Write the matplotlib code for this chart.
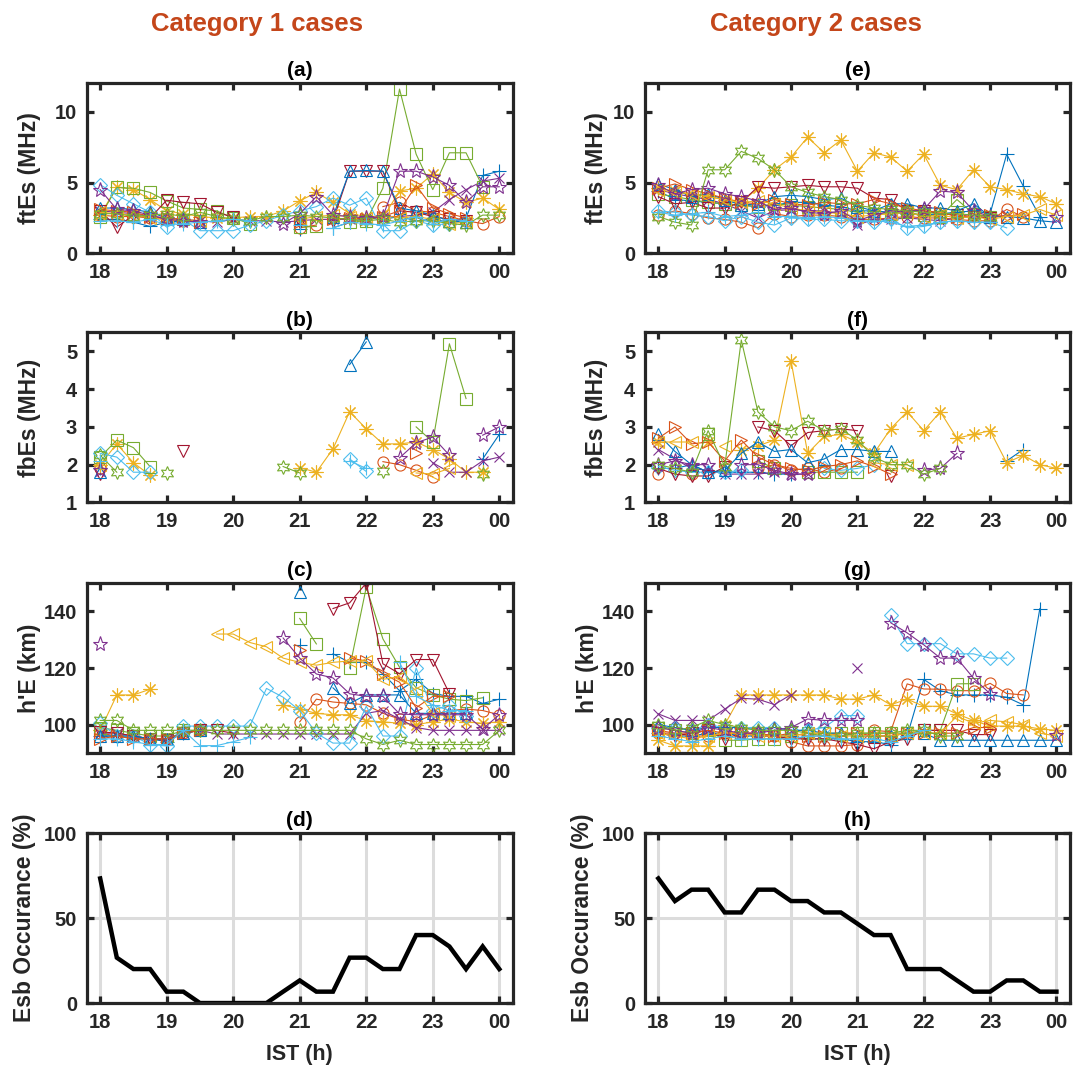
import numpy as np
import matplotlib
matplotlib.use("Agg")
import matplotlib.pyplot as plt

N = np.nan

# Observation times (IST, 15-minute sampling, 18:00 to 24:00)
ist_hours = [18.00, 18.25, 18.50, 18.75, 19.00, 19.25, 19.50, 19.75, 20.00,
             20.25, 20.50, 20.75, 21.00, 21.25, 21.50, 21.75, 22.00, 22.25,
             22.50, 22.75, 23.00, 23.25, 23.50, 23.75, 24.00]
hour_ticks = [18, 19, 20, 21, 22, 23, 24]
hour_labels = ["18", "19", "20", "21", "22", "23", "00"]

# ---------------- Category 1: ftEs (MHz), one row per case ----------------
ftes_cat1 = [
    [2.4, 2.4, 2.2, 1.9, 2.2, 2.3, 2.2, N, N, N, N, N, 1.7, N, 1.8, 2.2, 2.5, 2.4, 2.6, 2.3, 2.4, 2.2, 2.5, 5.5, 5.8],
    [2.7, 2.6, 2.6, 2.5, 2.4, 2.3, N, N, N, N, N, N, 1.8, 2.0, N, N, N, 3.3, 3.6, 3.0, 2.9, 2.6, 2.3, 2.1, 2.6],
    [2.7, 4.7, 4.5, 3.8, 3.0, 2.8, 2.6, 2.5, 2.5, 2.6, 2.6, 3.0, 3.7, 4.3, 3.6, 2.8, 2.6, 2.5, 4.4, 4.6, 5.6, 4.3, 3.6, 3.9, 3.1],
    [3.0, 2.9, 2.8, 2.6, 2.5, 2.4, 2.3, 2.2, 2.4, 2.3, 2.3, 2.2, 2.3, 2.4, 2.4, 2.4, 2.5, 2.6, 2.6, 2.7, 2.9, 3.8, 4.5, 5.1, 5.3],
    [2.6, 4.65, 4.6, 4.3, 3.7, 3.2, 3.1, 3.0, 2.5, 2.1, N, N, 1.85, 1.9, N, 2.2, 2.3, 4.6, 11.6, 7.0, 4.5, 7.1, 7.1, 4.7, N],
    [4.85, 4.1, 3.5, 2.9, 1.85, 2.4, 1.6, 1.6, 1.6, 2.0, 2.3, 2.7, 3.0, 3.3, 3.9, 3.4, 3.9, 1.6, 1.6, 2.3, 2.0, 2.1, 2.3, N, N],
    [3.0, 1.85, 2.7, 2.5, 3.75, 3.6, 3.5, 2.9, 2.55, N, N, N, 2.2, N, 2.3, 5.8, 5.8, 5.8, 3.0, 2.9, 2.6, 2.4, 2.3, N, N],
    [3.2, 3.2, 3.1, 2.9, 2.5, 2.4, 2.2, N, N, N, N, N, 2.5, N, 2.6, 5.8, 5.85, 5.8, 3.2, 3.0, 2.7, 2.3, 2.2, N, N],
    [3.1, 3.0, 2.9, 2.6, 2.5, 2.4, 2.2, N, N, N, N, N, 2.2, N, 2.4, 2.5, 2.4, 2.6, 3.0, 4.8, 3.2, 2.8, 2.5, N, N],
    [2.9, 2.8, 2.7, 2.5, 2.4, 2.4, 2.3, N, N, N, N, N, 2.4, 2.6, 2.7, 2.6, 2.5, 2.7, 2.5, 2.6, 2.4, 2.1, 2.2, N, N],
    [4.5, 3.1, 3.0, 2.7, 2.4, 2.3, 2.2, N, N, N, N, 2.1, 2.8, 4.0, 2.7, 2.6, 2.5, 2.6, 5.8, 5.8, 5.4, 4.8, 3.6, 4.7, 4.7],
    [2.8, 2.8, 2.6, 2.7, 2.8, 2.6, 2.9, 2.6, 2.4, 2.3, 2.6, 2.6, 2.7, 2.6, 2.5, 2.4, 2.3, 2.4, 2.2, 2.3, 2.3, 2.1, 2.0, 2.7, 2.7],
    [2.3, 2.3, 2.2, 2.4, 2.0, 2.1, 2.2, 2.3, 2.4, 2.3, N, N, 2.0, N, 1.8, 2.2, 2.1, 2.0, 2.3, 2.6, 2.1, 2.4, 2.3, N, N],
]

# ---------------- Category 1: fbEs (MHz) ----------------
fbes_cat1 = [
    [1.9, N, N, N, N, N, N, N, N, N, N, N, N, N, N, N, N, N, N, N, N, N, N, 2.15, 2.8],
    [1.9, N, N, N, N, N, N, N, N, N, N, N, N, N, N, N, N, 2.08, 2.0, 1.85, 1.68, N, N, N, N],
    [2.0, 2.55, 2.05, 1.72, N, N, N, N, N, N, N, N, 1.92, 1.8, 2.42, 3.4, 2.95, 2.55, 2.55, 2.6, 2.4, 2.15, 1.8, 1.8, N],
    [N, N, N, N, N, N, N, N, N, N, N, N, N, N, N, N, N, N, N, N, 2.05, 1.8, 1.8, 2.1, 2.2],
    [2.2, 2.65, 2.45, 1.95, N, N, N, N, N, N, N, N, N, N, N, N, N, N, N, 3.0, 2.6, 5.2, 3.75, N, N],
    [2.3, 2.2, 1.8, 1.8, N, N, N, N, N, N, N, N, N, N, N, 2.15, 1.82, N, N, N, N, N, N, N, N],
    [1.75, N, N, N, N, 2.35, N, N, N, N, N, N, N, N, N, N, N, N, N, N, N, N, N, N, N],
    [1.8, N, N, N, N, N, N, N, N, N, N, N, N, N, N, 4.65, 5.25, N, N, N, N, N, N, N, N],
    [N, N, N, N, N, N, N, N, N, N, N, N, N, N, N, N, N, N, N, 2.3, N, N, N, N, N],
    [2.0, N, N, N, N, N, N, N, N, N, N, N, N, N, N, N, N, N, N, 1.78, 1.75, 1.9, N, N, N],
    [1.85, N, N, N, N, N, N, N, N, N, N, N, N, N, N, N, N, N, 2.18, 2.58, 2.73, 2.25, N, 2.78, 3.0],
    [2.25, 1.8, N, N, 1.78, N, N, N, N, N, N, 1.95, 1.78, N, N, N, N, 1.82, N, N, N, N, N, 1.75, N],
    [2.1, N, N, N, N, N, N, N, N, N, N, N, N, N, N, 2.1, 1.9, N, N, N, N, N, N, N, N],
]

# ---------------- Category 1: h'E (km) ----------------
hpe_cat1 = [
    [96, 96, 95, 95, 94, 97, 98, N, N, N, N, N, 128, N, 125, 122, 122, 118, 112, 116, 111, 110, 110, 107.5, 109],
    [97, 96, 96, 95, 95, 97, 98, N, N, N, N, N, 101, 109, 108, 107.5, 107, 104, 102, 101, 103.5, 105, 105.5, 105, 103.5],
    [98, 110.5, 110.5, 112.5, N, N, N, N, N, N, N, 107, 105.5, 104, 103.5, 103.5, 101.4, 101, 100.5, 100, 101, 102, 101, 100.5, 101],
    [97, 97, 96, 95, 95, 97, 98, 96.7, 96.7, 96.7, 96.7, 96.7, 96.7, 96.7, 96.7, 96.7, 104, 105, 102, 99, 98, 98, 98, 98, 98],
    [99, 98, 97, 96, 96, 98, 98, N, N, N, N, N, 137.5, 128.5, N, 120, 148.5, 130.3, 120.3, 113, 110.5, 109, 108.5, 109.5, N],
    [100.5, 96, 96, 93, 92.5, 99.5, 99.5, 99.5, 99.5, 99.5, 112.8, 109.7, 105, 97, 93.5, 93.5, 106.5, 96, 96, 120, 105, 107, 103, N, N],
    [97.5, 97, 96, 95, 94.5, 97, 98, 98, 97, N, N, N, N, N, 141, 143, 150, 121.5, 118, 123, 123, 111, N, N, N],
    [96, 96, 96, 95, 95, 97, 98, N, N, N, N, N, 147, N, 113, 107.5, 110.5, 110.5, 110.5, 104, 104, 104, 104, N, N],
    [95, 96, 95, 95, 95, 97, 98, N, N, N, N, N, 126.5, N, N, 123.5, 122.5, 118, 115, 106, 110, 110, N, N, N],
    [N, N, N, N, N, N, N, 132, 132, 129, 127.5, 123.5, 122, 121, 122, 122.5, 122.5, 116, 117, 112, 104, 103, N, N, N],
    [128.6, N, N, N, N, N, N, N, N, N, N, 130.6, 123.5, 117.9, 116.5, 110.9, 110, 110, 103.8, 103.5, 103.5, 103.5, 103.5, 98.5, 103.5],
    [101.5, 101.5, 98, 98, 98, 98, 98, 98, 98, 98, 98, 98, 98, 98, 98, 98, 95, 93, 94.5, 93, 93, 93, 93, 93, 98],
    [95, 95, 94, 93, 93, 98, 92.6, 92.6, 94, 95.5, N, N, N, N, N, N, N, N, 122, 110, 107, 105, 105, N, N],
]

# ---------------- Category 2: ftEs (MHz) ----------------
ftes_cat2 = [
    [4.4, 3.8, 3.7, 3.6, 3.5, 3.4, 3.3, 3.4, 3.6, 3.6, 3.4, 3.3, 3.0, 3.0, 2.9, 2.8, 2.7, 2.8, 2.9, 3.0, 2.8, 7.0, 4.75, 2.6, N],
    [2.7, 3.0, 2.8, 2.5, 2.4, 2.2, 1.8, 2.8, 2.6, 2.7, 2.7, 2.6, 2.4, 2.4, 2.5, 2.6, 2.5, 2.5, 2.4, 2.3, 2.3, 3.1, 2.6, N, N],
    [4.6, 4.4, 4.2, 4.0, 3.8, 3.6, 4.6, 5.9, 6.8, 8.2, 7.1, 8.0, 5.8, 7.1, 6.8, 5.8, 7.0, 4.8, 4.5, 5.9, 4.7, 4.5, 4.2, 4.0, 3.5],
    [4.5, 4.2, 4.0, 3.8, 3.5, 3.0, 2.5, 3.0, 3.1, 3.0, 3.0, 2.8, 2.0, 2.4, 2.4, 2.5, 2.4, 2.3, 2.5, 2.6, 2.5, 2.7, N, N, N],
    [4.2, 4.0, 3.8, 3.6, 3.5, 3.4, 3.3, 3.5, 3.4, 3.3, 3.2, 3.1, 2.9, 2.8, 2.8, 2.9, 2.7, 2.6, 3.8, 2.8, 2.6, N, N, N, N],
    [3.0, 2.9, 2.7, 2.6, 2.3, 2.6, 2.2, 2.0, 2.5, 2.4, 2.4, 2.3, 2.3, 2.2, 2.4, 1.8, 1.9, 2.2, 2.3, 2.2, 2.2, 1.8, N, N, N],
    [4.0, 3.5, 3.6, 3.2, 3.2, 3.6, 4.7, 4.6, 4.7, 4.8, 4.7, 4.7, 4.6, 3.9, 3.8, 3.0, 3.0, 2.8, 2.7, 2.6, 2.5, N, N, N, N],
    [4.9, 4.5, 4.0, 4.2, 3.8, 3.4, 3.5, 4.0, 4.1, 4.0, 3.8, 3.9, 3.3, 3.0, 3.5, 3.5, 3.2, 3.2, 3.0, 3.5, 2.6, 2.6, 2.5, 2.3, 2.2],
    [4.6, 4.9, 4.5, 4.2, 3.9, 3.6, 3.5, 3.8, 3.5, 3.4, 3.6, 3.5, 3.5, 3.8, 3.5, 3.2, 3.0, 2.9, 2.6, 2.6, 2.7, 2.6, 2.8, N, N],
    [4.5, 4.3, 4.2, 4.0, 3.8, 3.6, 3.7, 3.5, 3.2, 3.0, 2.9, 2.8, 2.6, 2.7, 2.8, 2.9, 2.6, 2.7, 2.5, 2.6, 2.4, 2.6, 2.7, 3.1, 2.7],
    [4.8, 4.2, 4.5, 4.6, 4.2, 4.0, 3.7, 3.1, 3.2, 2.9, 2.8, 3.0, 2.3, 2.7, 3.0, 2.9, 3.1, 4.4, 4.3, 3.0, 2.6, N, N, N, 2.6],
    [2.6, 2.2, 2.0, 5.9, 5.9, 7.2, 6.7, 5.9, 4.7, 4.3, 4.0, 3.8, 3.4, 3.2, 3.1, 3.0, 2.9, 2.8, 2.8, 2.7, 2.6, N, N, N, N],
    [2.9, 2.7, 2.8, 2.9, 2.6, 2.7, 2.9, 2.6, 2.6, 2.5, 2.6, 2.5, 2.3, 2.3, 2.2, 1.9, 2.0, 2.2, 2.3, 2.2, 2.2, N, N, N, N],
]

# ---------------- Category 2: fbEs (MHz) ----------------
fbes_cat2 = [
    [1.9, 1.9, 2.0, 1.8, 1.8, 1.8, 1.8, 1.75, 1.75, N, N, N, N, N, N, N, N, N, N, N, N, 2.1, 2.4, N, N],
    [1.75, N, 1.75, N, N, N, 1.9, 2.0, 1.85, 1.9, 1.8, 1.9, N, N, N, N, N, N, N, N, N, N, N, N, N],
    [2.6, N, N, 2.6, N, 2.4, 2.5, 2.65, 4.75, 2.3, 2.75, 2.8, 2.6, 2.3, 2.95, 3.4, 2.9, 3.4, 2.7, 2.8, 2.9, 2.05, 2.25, 2.0, 1.9],
    [2.4, 2.15, 1.9, 1.85, 1.75, 1.75, 1.75, 1.8, 1.75, 1.75, N, N, N, N, N, N, N, N, N, N, N, N, N, N, N],
    [N, N, N, 2.8, N, N, 2.1, 1.9, N, 1.8, 1.8, 1.8, 1.8, N, N, N, N, N, N, N, N, N, N, N, N],
    [1.95, 1.85, 1.8, 1.8, 1.8, 1.85, N, N, N, N, 1.9, 1.85, 1.9, 2.0, N, N, N, N, N, N, N, N, N, N, N],
    [1.9, 1.75, 1.7, 1.7, 1.95, N, 3.0, 2.9, 2.5, 2.85, 2.9, 2.95, 2.9, N, 1.7, N, N, N, N, N, N, N, N, N, N],
    [2.8, 2.35, 2.0, 1.8, 1.85, 2.3, 2.6, 2.35, 2.4, 2.05, 2.15, 2.4, 2.4, 2.35, 2.35, N, N, N, N, N, N, N, N, N, N],
    [2.7, 3.0, 2.55, 2.6, 2.1, 2.65, 2.2, 2.0, 1.9, 1.85, 1.95, 2.0, 2.1, 1.95, 1.75, N, N, N, N, N, N, N, N, N, N],
    [2.6, 2.6, 2.6, N, 2.5, N, N, N, N, N, N, N, N, 2.05, 2.0, 2.0, N, N, N, N, N, N, N, N, N],
    [2.0, 2.1, 2.0, 2.0, N, 2.0, 2.0, 1.85, 1.75, 1.75, N, N, N, N, N, N, 1.85, 1.9, 2.3, N, N, N, N, N, N],
    [2.0, 1.9, 1.8, 2.9, 1.95, 5.3, 3.4, 3.0, 2.9, 3.15, 2.9, 2.95, 2.65, 2.2, 2.0, 2.0, 1.75, 1.9, N, N, N, N, N, N, N],
]

# ---------------- Category 2: h'E (km) ----------------
hpe_cat2 = [
    [97, 96, 96, 97, 97, 96, 96, 96, 96, 95, 95, 95, 94, 94, 93, 96, 116, 112, 110.5, 110.5, 110.5, 109.7, 107, 141, N],
    [97, 97, 96, 96, 97, 97, 97, 96, 94, 92.5, 92.5, 92.5, 93, 98, 97.5, 114.4, 112.6, 112.5, 112, 112, 114.6, 111, 110.5, N, N],
    [94.5, 92.5, 92.5, 92.5, 100, 110.5, 110.5, 110.5, 110.5, 110.5, 110.5, 109, 109, 110.5, 107, 109, 106.5, 106.5, 103.8, 101.5, 99.5, 99.5, 99.5, 98.5, 98],
    [103.8, 101.5, 101.5, 101.5, 105.5, 109.3, 109, 107.1, 110.6, N, N, N, 119.9, N, N, N, N, N, N, N, N, N, N, N, N],
    [99, 98, 97, 98, 94.5, 94.5, 95, 95, 96, 97, 97, 97, 97, 97, 97, 97, 98, 98, 114.4, 114.5, N, N, N, N, N],
    [99, 99, 98, 100, 99, 99, 99, 99, 98, 98, 99, 103.2, 103.2, N, 138.6, 128.6, 128.6, 128.6, 125, 125, 123.5, 123.5, N, N, N],
    [97, 96, 97, 98, 95, 97, 96, 96, 95, 95, 95, 94, 93, 91.5, 94, 95, 98, 98, 98, 96.5, 96.5, N, N, N, N],
    [100, 99, 98, 99, 99, 99, 98, 99, 98, 98, 97, 97, 96, 96, 96, 97, 97, 94.5, 94.5, 94.5, 94.5, 94.5, 94.5, 94.5, 94.5],
    [98, 97, 97, 98, 97, 97, 97, 96, 97, 96, 96, 97, 97, 96, 96, 97, 97, 97, 97, 99, 99, N, N, N, N],
    [97, 96, 95, 96, 97, 97, 96, 96, 96, 97, 97, 96, 96, 96, 96, 97, 97, 97, 103, 100.5, 101.5, 101, 100, 97, 96],
    [99, 98, 97, 99, 98, 97, 97, 98, 99, 102, 101.5, 101.5, 101.5, N, 136, 132.4, 128.2, 123.5, 123.5, 116.4, 110.9, N, N, N, 96.5],
    [100, 98, 99, 101.5, 100, 99, 98, 98, 98, 97, 96, 96, 97, 97, 97, 98, 98, 96, 96, N, N, N, N, N, N],
    [96, 95, 94, 95, 96, 95, 95, 95, 95, 96, 96, 95, 95, 95, 94, 96, 98, N, N, N, N, N, N, N, N],
]

# ---------------- Esb occurrence (%) ----------------
esb_occ_cat1 = [73.3, 26.7, 20.0, 20.0, 6.7, 6.7, 0, 0, 0, 0, 0, 6.7, 13.3, 6.7, 6.7,
                26.7, 26.7, 20.0, 20.0, 40.0, 40.0, 33.3, 20.0, 33.3, 20.0]
esb_occ_cat2 = [73.3, 60.0, 66.7, 66.7, 53.3, 53.3, 66.7, 66.7, 60.0, 60.0, 53.3, 53.3, 46.7,
                40.0, 40.0, 20.0, 20.0, 20.0, 13.3, 6.7, 6.7, 13.3, 13.3, 6.7, 6.7]

# ---------------- styling ----------------
plt.rcParams["font.family"] = ["Liberation Sans", "DejaVu Sans"]
plt.rcParams["font.weight"] = "bold"

DARK = "#262626"
HEAD = "#C4461A"
line_colors = ["#0072BD", "#D95319", "#EDB120", "#7E2F8E", "#77AC30", "#4DBEEE", "#A2142F"]
case_markers = ["+", "o", (8, 2, 0), "x", "s", "D", "v", "^", ">", "<", "*", (6, 1, 0)]
marker_sizes = [10, 8, 10, 7, 8, 7, 8, 8, 8, 8, 11, 10]

fig = plt.figure(figsize=(10.86, 10.69), dpi=100)

col_x = [0.080, 0.594]
col_w = [0.392, 0.391]
row_y = [0.763, 0.530, 0.2956, 0.0617]
row_h = 0.159


def style_axes(ax, ylim, yticks, ylabel, label_x):
    ax.set_xlim(17.8, 24.2)
    ax.set_ylim(*ylim)
    ax.set_xticks(hour_ticks)
    ax.set_xticklabels(hour_labels)
    ax.set_yticks(yticks)
    for sp in ax.spines.values():
        sp.set_linewidth(2.3)
        sp.set_color(DARK)
    ax.tick_params(direction="in", length=5, width=2.3, colors=DARK,
                   top=True, right=True, labelsize=14.5, pad=7)
    for lab in ax.get_xticklabels() + ax.get_yticklabels():
        lab.set_fontweight("bold")
    ax.set_ylabel(ylabel, fontsize=16.5, fontweight="bold", color=DARK)
    ax.yaxis.set_label_coords(label_x, 0.5)


def draw_cases(ax, table):
    for i, row in enumerate(table):
        vals = np.array(row, dtype=float)
        k = i % len(case_markers)
        ax.plot(ist_hours, vals, color=line_colors[i % len(line_colors)],
                marker=case_markers[k], ms=marker_sizes[k], mfc="none",
                mew=0.8, lw=0.8)


panels = [
    # (column, row, data, ylim, yticks, ylabel, title)
    (0, 0, ftes_cat1, (0, 12), [0, 5, 10], "ftEs (MHz)", "(a)"),
    (0, 1, fbes_cat1, (1, 5.5), [1, 2, 3, 4, 5], "fbEs (MHz)", "(b)"),
    (0, 2, hpe_cat1, (90, 150), [100, 120, 140], "h'E (km)", "(c)"),
    (1, 0, ftes_cat2, (0, 12), [0, 5, 10], "ftEs (MHz)", "(e)"),
    (1, 1, fbes_cat2, (1, 5.5), [1, 2, 3, 4, 5], "fbEs (MHz)", "(f)"),
    (1, 2, hpe_cat2, (90, 150), [100, 120, 140], "h'E (km)", "(g)"),
]
label_xs = {0: [-0.108, -0.108, -0.108, -0.12], 1: [-0.087, -0.087, -0.108, -0.12]}

for col, row, data, ylim, yticks, ylabel, title in panels:
    ax = fig.add_axes([col_x[col], row_y[row], col_w[col], row_h])
    draw_cases(ax, data)
    style_axes(ax, ylim, yticks, ylabel, label_xs[col][row])
    ax.set_title(title, fontsize=15, fontweight="bold", pad=5)

for col, occ, title in [(0, esb_occ_cat1, "(d)"), (1, esb_occ_cat2, "(h)")]:
    ax = fig.add_axes([col_x[col], row_y[3], col_w[col], row_h])
    ax.grid(True, color="#dcdcdc", lw=2.2)
    ax.set_axisbelow(True)
    ax.plot(ist_hours, occ, color="black", lw=3.2, solid_joinstyle="miter")
    style_axes(ax, (0, 100), [0, 50, 100], "Esb Occurance (%)", label_xs[col][3])
    ax.set_title(title, fontsize=15, fontweight="bold", pad=5)
    ax.set_xlabel("IST (h)", fontsize=15.5, fontweight="bold", color=DARK, labelpad=9)

fig.text(0.237, 0.971, "Category 1 cases", ha="center", va="baseline",
         fontsize=18.5, fontweight="bold", color=HEAD)
fig.text(0.751, 0.971, "Category 2 cases", ha="center", va="baseline",
         fontsize=18.5, fontweight="bold", color=HEAD)

fig.savefig("out.png", dpi=100)
